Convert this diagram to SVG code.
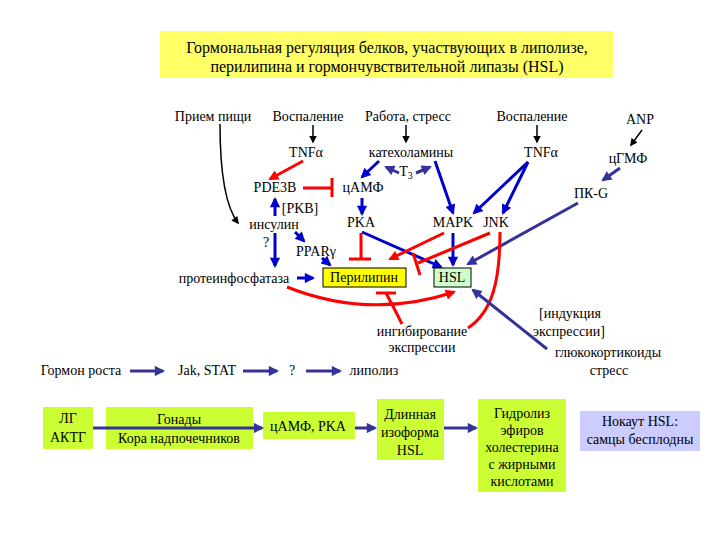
<svg xmlns="http://www.w3.org/2000/svg" width="720" height="540" viewBox="0 0 720 540">
<defs>
<style>
text{font-family:Liberation Serif,Times New Roman,DejaVu Serif,serif;font-size:14px;fill:#000;text-anchor:middle}
.b{fill:none;stroke:#0000cc;stroke-width:3}
.p{fill:none;stroke:#333399;stroke-width:3}
.r{fill:none;stroke:#ff0000;stroke-width:3}
.k{fill:none;stroke:#000;stroke-width:1.5}
.gbox{fill:#ccff33}
</style>
<marker id="mb" viewBox="0 0 10 10" refX="8" refY="5" markerWidth="4" markerHeight="3.4" orient="auto"><path d="M0,0 L10,5 L0,10 z" fill="#0000cc"/></marker>
<marker id="mp" viewBox="0 0 10 10" refX="8" refY="5" markerWidth="4" markerHeight="3.4" orient="auto"><path d="M0,0 L10,5 L0,10 z" fill="#333399"/></marker>
<marker id="mr" viewBox="0 0 10 10" refX="8" refY="5" markerWidth="4" markerHeight="3.4" orient="auto"><path d="M0,0 L10,5 L0,10 z" fill="#ff0000"/></marker>
<marker id="mk" viewBox="0 0 10 10" refX="8" refY="5" markerWidth="6" markerHeight="5" orient="auto"><path d="M0,0 L10,5 L0,10 z" fill="#000"/></marker>
</defs>
<rect width="720" height="540" fill="#fff"/>

<g id="title">
<rect x="160" y="31" width="453" height="47" fill="#ffff66"/>
<text x="387" y="53" style="font-size:16px">Гормональная регуляция белков, участвующих в липолизе,</text>
<text x="387" y="72" style="font-size:16px">перилипина и гормончувствительной липазы (HSL)</text>
</g>

<g id="connectors">
<path class="k" d="M313,125 L313,142" marker-end="url(#mk)"/>
<path class="k" d="M406,125 L406,142" marker-end="url(#mk)"/>
<path class="k" d="M537,125 L537,142" marker-end="url(#mk)"/>
<path class="k" d="M642,130 L631,145" marker-end="url(#mk)"/>
<path class="k" d="M220,124 C220,170 225,206 238,223" marker-end="url(#mk)"/>
<path class="r" d="M303,161 L270,179" marker-end="url(#mr)"/>
<path class="r" d="M303,188 L331,188 M332,178 L332,197"/>
<path class="b" d="M379,161 L362,177" marker-end="url(#mb)"/>
<path class="p" d="M399,173 L386,167" marker-end="url(#mp)"/>
<path class="p" d="M416,173 L430,167" marker-end="url(#mp)"/>
<path class="b" d="M435,161 L453,213" marker-end="url(#mb)"/>
<path class="b" d="M528,162 L474,213" marker-end="url(#mb)"/>
<path class="b" d="M528,162 L503,213" marker-end="url(#mb)"/>
<path class="p" d="M620,168 L603,180" marker-end="url(#mp)"/>
<path class="p" d="M578,203 L468,264" marker-end="url(#mp)"/>
<path class="b" d="M362,198 L362,214" marker-end="url(#mb)"/>
<path class="b" d="M275,216 L275,199" marker-end="url(#mb)"/>
<path class="b" d="M275,233 L275,266" marker-end="url(#mb)"/>
<path class="b" d="M295,232 L304,241" marker-end="url(#mb)"/>
<path class="b" d="M322,258 L330,265" marker-end="url(#mb)"/>
<path class="b" d="M297,278 L313,278" marker-end="url(#mb)"/>
<path class="r" d="M361,233 L361,258 M349,259 L371,259"/>
<path class="b" d="M362,232 L441,267" marker-end="url(#mb)"/>
<path class="b" d="M453,233 L453,265" marker-end="url(#mb)"/>
<path class="r" d="M444,233 L390,259" marker-end="url(#mr)"/>
<path class="r" d="M490,233 L418,263 M413,253 L420,275"/>
<path class="r" d="M287,287 Q370,320 454,292" marker-end="url(#mr)"/>
<path class="r" d="M376,293 L396,293 M386,293 Q395,310 402,324"/>
<path class="r" d="M500,232 C500,282 492,312 468,328"/>
<path class="p" d="M547,349 L473,290" marker-end="url(#mp)"/>
<path class="p" d="M130,371 L163,371" marker-end="url(#mp)"/>
<path class="p" d="M243,371 L277,371" marker-end="url(#mp)"/>
<path class="p" d="M306,371 L340,371" marker-end="url(#mp)"/>
</g>

<g id="n-priem"><text x="213" y="121">Прием пищи</text></g>
<g id="n-vospal1"><text x="308" y="121">Воспаление</text></g>
<g id="n-rabota"><text x="408" y="121">Работа, стресс</text></g>
<g id="n-vospal2"><text x="532" y="121">Воспаление</text></g>
<g id="n-anp"><text x="640" y="124">ANP</text></g>
<g id="n-tnf1"><text x="306" y="157">TNFα</text></g>
<g id="n-katehol"><text x="411" y="157">катехоламины</text></g>
<g id="n-tnf2"><text x="541" y="157">TNFα</text></g>
<g id="n-cgmp"><text x="628" y="163">цГМФ</text></g>
<g id="n-t3"><text x="406" y="176">T<tspan style="font-size:10px" dy="3">3</tspan></text></g>
<g id="n-pde3b"><text x="275" y="192">PDE3B</text></g>
<g id="n-camp"><text x="363" y="192">цАМФ</text></g>
<g id="n-pkg"><text x="591" y="198">ПК-G</text></g>
<g id="n-pkb"><text x="300" y="213">[PKB]</text></g>
<g id="n-insulin"><text x="274" y="229">инсулин</text></g>
<g id="n-q1"><text x="266" y="247">?</text></g>
<g id="n-pka"><text x="361" y="227">PKA</text></g>
<g id="n-mapk"><text x="453" y="227">MAPK</text></g>
<g id="n-jnk"><text x="496" y="227">JNK</text></g>
<g id="n-ppar"><text x="316" y="256">PPARγ</text></g>
<g id="n-protein"><text x="234" y="283">протеинфосфатаза</text></g>
<g id="n-perilipin">
<rect x="323" y="268" width="83" height="19" fill="#ffff00" stroke="#000" stroke-width="1"/>
<text x="364" y="282">Перилипин</text>
</g>
<g id="n-hsl">
<rect x="434" y="268" width="37" height="19" fill="#ccffcc" stroke="#000" stroke-width="1"/>
<text x="452" y="282">HSL</text>
</g>
<g id="n-ingib">
<text x="422" y="336">ингибирование</text>
<text x="422" y="352">экспрессии</text>
</g>
<g id="n-indukc">
<text x="570" y="318">[индукция</text>
<text x="569" y="336">экспрессии]</text>
</g>
<g id="n-gluco"><text x="608" y="357">глюкокортикоиды</text></g>
<g id="n-stress"><text x="609" y="375">стресс</text></g>
<g id="n-gormon"><text x="81" y="375">Гормон роста</text></g>
<g id="n-jak"><text x="207" y="375">Jak, STAT</text></g>
<g id="n-q2"><text x="292" y="375">?</text></g>
<g id="n-lipoliz"><text x="374" y="375">липолиз</text></g>

<g id="n-lg">
<rect class="gbox" x="43" y="407" width="50" height="42"/>
<text x="68" y="423">ЛГ</text>
<text x="68" y="442">АКТГ</text>
</g>
<g id="n-gonady">
<rect class="gbox" x="106" y="407" width="147" height="42"/>
<text x="179" y="424">Гонады</text>
<text x="179" y="443">Кора надпочечников</text>
</g>
<g id="n-campka">
<rect class="gbox" x="263" y="412" width="92" height="27"/>
<text x="308" y="431">цАМФ, PKA</text>
</g>
<g id="n-dlinnaya">
<rect class="gbox" x="377" y="399" width="67" height="61"/>
<text x="410" y="419">Длинная</text>
<text x="410" y="437">изоформа</text>
<text x="410" y="455">HSL</text>
</g>
<g id="n-gidroliz">
<rect class="gbox" x="478" y="399" width="88" height="93"/>
<text x="522" y="418">Гидролиз</text>
<text x="522" y="435">эфиров</text>
<text x="522" y="452">холестерина</text>
<text x="522" y="469">с жирными</text>
<text x="522" y="486">кислотами</text>
</g>
<g id="n-nokaut">
<rect x="580" y="411" width="120" height="40" fill="#ccccff"/>
<text x="640" y="426">Нокаут HSL:</text>
<text x="640" y="444">самцы бесплодны</text>
</g>

<g id="connectors-bottom">
<path class="p" d="M93,428 L262,428" stroke-width="4" marker-end="url(#mp)"/>
<path class="p" d="M355,428 L375,428" stroke-width="4" marker-end="url(#mp)"/>
<path class="p" d="M444,428 L476,428" stroke-width="4" marker-end="url(#mp)"/>
</g>
</svg>
